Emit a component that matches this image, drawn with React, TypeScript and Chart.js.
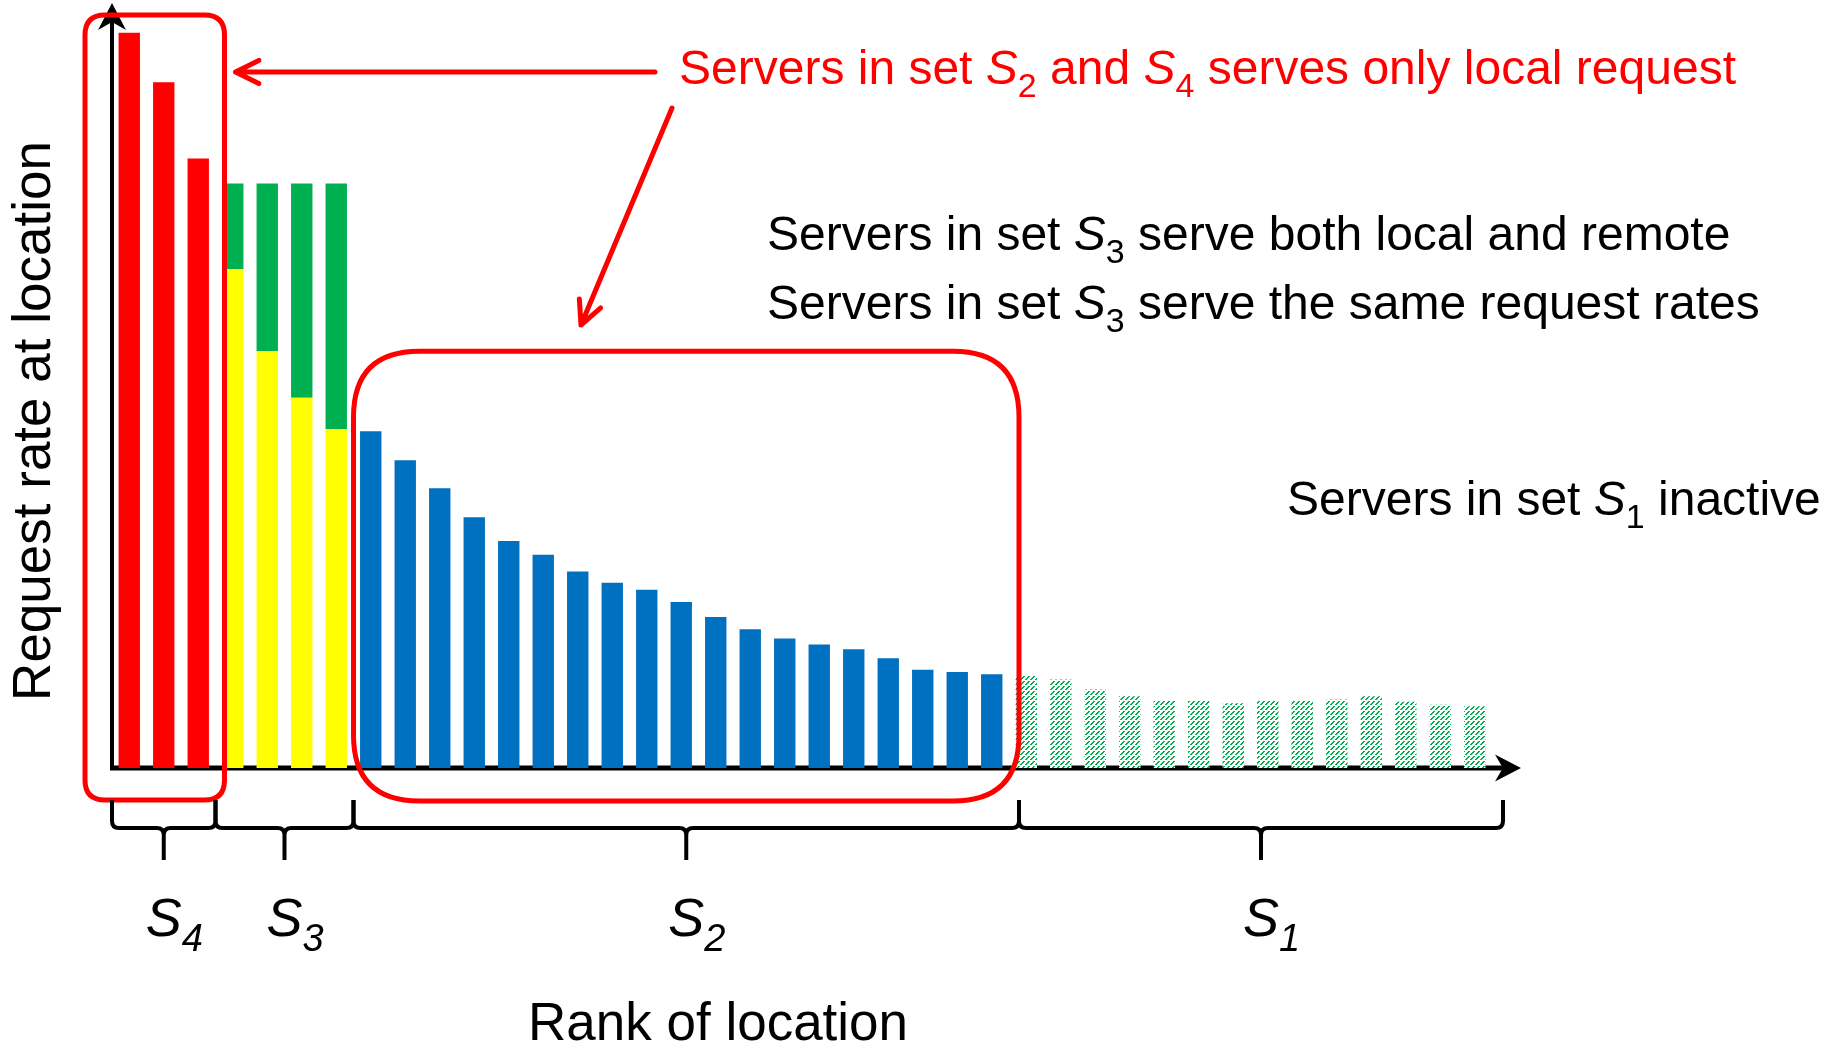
import React, { useEffect, useRef } from "react";
import { Chart, registerables } from "chart.js";
Chart.register(...registerables);

// ---- data (request rate, arbitrary units, 0..100 = axis height) ----
const redS4 = [96.5, 90, 80];
const yellowS3 = [65.5, 54.7, 48.6, 44.5];
const greenS3 = [11.2, 22.0, 28.1, 32.2];
const blueS2 = [44.2, 40.4, 36.7, 32.9, 29.8, 28.0, 25.8, 24.3, 23.4, 21.8, 19.8, 18.2, 17.0, 16.2, 15.6, 14.4, 12.9, 12.6, 12.3];
const hatchS1 = [12.2, 11.6, 10.3, 9.4, 8.9, 8.8, 8.5, 8.8, 8.9, 9.0, 9.4, 8.7, 8.3, 8.1];
const setLabels = ["4", "3", "2", "1"];
const xTitle = "Rank of location";
const yTitle = "Request rate at location";
const redNote = ["Servers in set ", "2", " and ", "4", " serves only local request"];
const line1 = ["Servers in set ", "3", " serve both local and remote"];
const line2 = ["Servers in set ", "3", " serve the same request rates"];
const line3 = ["Servers in set ", "1", " inactive"];

const FONT = '"Liberation Sans", Arial, Helvetica, sans-serif';
const RED = "#FF0000";

const total = redS4.length + yellowS3.length + blueS2.length + hatchS1.length;
const labels = Array.from({ length: total }, (_, i) => String(i + 1));
function place(values: number[], start: number) {
  const arr: (number | null)[] = new Array(total).fill(null);
  values.forEach((v, i) => (arr[start + i] = v));
  return arr;
}
const startS3 = redS4.length;
const startS2 = startS3 + yellowS3.length;
const startS1 = startS2 + blueS2.length;

function rich(ctx: CanvasRenderingContext2D, parts: string[], x: number, y: number, size: number, color: string, italicAll = false) {
  let cx = x;
  ctx.fillStyle = color;
  ctx.textBaseline = "alphabetic";
  ctx.textAlign = "left";
  parts.forEach((p, i) => {
    if (i % 2 === 0) {
      ctx.font = `${italicAll ? "italic " : ""}${size}px ${FONT}`;
      ctx.fillText(p, cx, y);
      cx += ctx.measureText(p).width;
    } else {
      ctx.font = `italic ${size}px ${FONT}`;
      ctx.fillText("S", cx, y);
      cx += ctx.measureText("S").width;
      const ss = Math.round(size * 0.7);
      ctx.font = `${italicAll ? "italic " : ""}${ss}px ${FONT}`;
      ctx.fillText(p, cx, y + size * 0.27);
      cx += ctx.measureText(p).width;
    }
  });
}

function stealth(ctx: CanvasRenderingContext2D, tx: number, ty: number, dx: number, dy: number, len: number, hw: number) {
  const bx = tx - dx * len, by = ty - dy * len;
  const nx = -dy, ny = dx;
  ctx.beginPath();
  ctx.moveTo(tx, ty);
  ctx.lineTo(bx + nx * hw, by + ny * hw);
  ctx.lineTo(tx - dx * len * 0.7, ty - dy * len * 0.7);
  ctx.lineTo(bx - nx * hw, by - ny * hw);
  ctx.closePath();
  ctx.fill();
}

function openArrow(ctx: CanvasRenderingContext2D, fx: number, fy: number, tx: number, ty: number) {
  const a = Math.atan2(ty - fy, tx - fx);
  const wing = 26, sp = 0.46;
  ctx.beginPath();
  ctx.moveTo(fx, fy);
  ctx.lineTo(tx, ty);
  ctx.moveTo(tx - wing * Math.cos(a - sp), ty - wing * Math.sin(a - sp));
  ctx.lineTo(tx, ty);
  ctx.lineTo(tx - wing * Math.cos(a + sp), ty - wing * Math.sin(a + sp));
  ctx.stroke();
}

function roundRect(ctx: CanvasRenderingContext2D, l: number, t: number, r: number, b: number, rad: number) {
  ctx.beginPath();
  ctx.moveTo(l + rad, t);
  ctx.lineTo(r - rad, t);
  ctx.quadraticCurveTo(r, t, r, t + rad);
  ctx.lineTo(r, b - rad);
  ctx.quadraticCurveTo(r, b, r - rad, b);
  ctx.lineTo(l + rad, b);
  ctx.quadraticCurveTo(l, b, l, b - rad);
  ctx.lineTo(l, t + rad);
  ctx.quadraticCurveTo(l, t, l + rad, t);
  ctx.closePath();
  ctx.stroke();
}

function brace(ctx: CanvasRenderingContext2D, x1: number, x2: number, yTop: number, yMid: number, yTip: number) {
  const r = 7;
  const xm = (x1 + x2) / 2;
  ctx.beginPath();
  ctx.moveTo(x1, yTop);
  ctx.lineTo(x1, yMid - r);
  ctx.quadraticCurveTo(x1, yMid, x1 + r, yMid);
  ctx.lineTo(xm - r, yMid);
  ctx.quadraticCurveTo(xm, yMid, xm, yMid + r);
  ctx.lineTo(xm, yTip);
  ctx.moveTo(xm, yMid + r);
  ctx.quadraticCurveTo(xm, yMid, xm + r, yMid);
  ctx.lineTo(x2 - r, yMid);
  ctx.quadraticCurveTo(x2, yMid, x2, yMid - r);
  ctx.lineTo(x2, yTop);
  ctx.stroke();
}

const annotations = {
  id: "annotations",
  beforeDatasetsDraw(chart: any) {
    const ctx: CanvasRenderingContext2D = chart.ctx;
    const x = chart.scales.x, y = chart.scales.y;
    const x0 = x.left, y0 = y.getPixelForValue(0);
    ctx.save();
    ctx.fillStyle = "#000";
    ctx.strokeStyle = "#000";
    ctx.lineWidth = 4;
    ctx.beginPath();
    ctx.moveTo(x0, y0 + 2);
    ctx.lineTo(x0, y.top + 14);
    ctx.stroke();
    stealth(ctx, x0, y.top - 3, 0, -1, 27, 14);
    const xEnd = x.right + 29;
    ctx.lineWidth = 5;
    ctx.beginPath();
    ctx.moveTo(x0 - 2, y0);
    ctx.lineTo(xEnd - 14, y0);
    ctx.stroke();
    stealth(ctx, xEnd, y0, 1, 0, 26, 13.5);
    ctx.restore();
  },
  afterDatasetsDraw(chart: any) {
    const ctx: CanvasRenderingContext2D = chart.ctx;
    const x = chart.scales.x, y = chart.scales.y;
    const cw = (x.right - x.left) / total;
    const X = (i: number) => x.left + i * cw;
    const y0 = y.getPixelForValue(0);
    ctx.save();
    // red boxes
    ctx.strokeStyle = RED;
    ctx.lineWidth = 5;
    const b1r = X(startS3) + 9;
    roundRect(ctx, x.left - 27, y.top + 9, b1r, y0 + 32, 20);
    roundRect(ctx, X(startS2), y.getPixelForValue(54.7), X(startS1) + 10, y0 + 33, 66);
    // red arrows
    ctx.lineWidth = 5;
    ctx.lineCap = "round";
    ctx.lineJoin = "round";
    openArrow(ctx, 655, 72, b1r + 11, 72);
    openArrow(ctx, 672, 108, 581, 325);
    // texts
    rich(ctx, redNote, 679, 84, 48, RED);
    rich(ctx, line1, 767, 250, 48, "#000");
    rich(ctx, line2, 767, 319, 48, "#000");
    rich(ctx, line3, 1287, 515, 48, "#000");
    // braces
    ctx.strokeStyle = "#000";
    ctx.lineWidth = 4;
    ctx.lineCap = "butt";
    const bounds = [x.left, X(startS3), X(startS2), X(startS1) + 10, X(total) + 11];
    for (let i = 0; i < 4; i++) {
      brace(ctx, bounds[i], bounds[i + 1], y0 + 32, y0 + 60, y0 + 92);
      const mid = (bounds[i] + bounds[i + 1]) / 2;
      rich(ctx, ["", setLabels[i], ""], mid - 18, y0 + 168, 54, "#000", true);
    }
    // axis titles
    ctx.fillStyle = "#000";
    ctx.font = `53px ${FONT}`;
    ctx.textAlign = "left";
    ctx.textBaseline = "alphabetic";
    ctx.fillText(xTitle, 528, 1040);
    ctx.translate(50, 421);
    ctx.rotate(-Math.PI / 2);
    ctx.textAlign = "center";
    ctx.fillText(yTitle, 0, 0);
    ctx.restore();
  },
};

export default function App() {
  const ref = useRef<HTMLCanvasElement>(null);
  useEffect(() => {
    document.body.style.margin = "0";
    const canvas = ref.current!;
    const pc = document.createElement("canvas");
    pc.width = 5;
    pc.height = 5;
    const p = pc.getContext("2d")!;
    p.fillStyle = "#fff";
    p.fillRect(0, 0, 5, 5);
    p.fillStyle = "#00B050";
    for (const i of [0, 1, 2, 3]) {
      p.fillRect(i, 4 - i, 1, 1);
      p.fillRect((i + 1) % 5, 4 - i, 1, 1);
    }
    const pattern = canvas.getContext("2d")!.createPattern(pc, "repeat");
    const common = { barPercentage: 0.62, categoryPercentage: 1, borderWidth: 0 };
    const chart = new Chart(canvas, {
      type: "bar",
      data: {
        labels,
        datasets: [
          { label: "S4", data: place(redS4, 0), backgroundColor: RED, ...common },
          { label: "S3 local", data: place(yellowS3, startS3), backgroundColor: "#FFFF00", ...common },
          { label: "S3 remote", data: place(greenS3, startS3), backgroundColor: "#00B050", ...common },
          { label: "S2", data: place(blueS2, startS2), backgroundColor: "#0070C0", ...common },
          { label: "S1", data: place(hatchS1, startS1), backgroundColor: pattern as any, ...common },
        ],
      },
      options: {
        responsive: false,
        animation: false,
        devicePixelRatio: 1,
        layout: { padding: { left: 112, right: 341, top: 6, bottom: 277 } },
        scales: {
          x: { stacked: true, display: false },
          y: { stacked: true, display: false, min: 0, max: 100 },
        },
        plugins: { legend: { display: false }, tooltip: { enabled: false } },
      },
      plugins: [annotations],
    });
    return () => chart.destroy();
  }, []);
  return (
    <div style={{ width: 1833, height: 1045, background: "#fff" }}>
      <canvas ref={ref} width={1833} height={1045} style={{ display: "block" }} />
    </div>
  );
}
